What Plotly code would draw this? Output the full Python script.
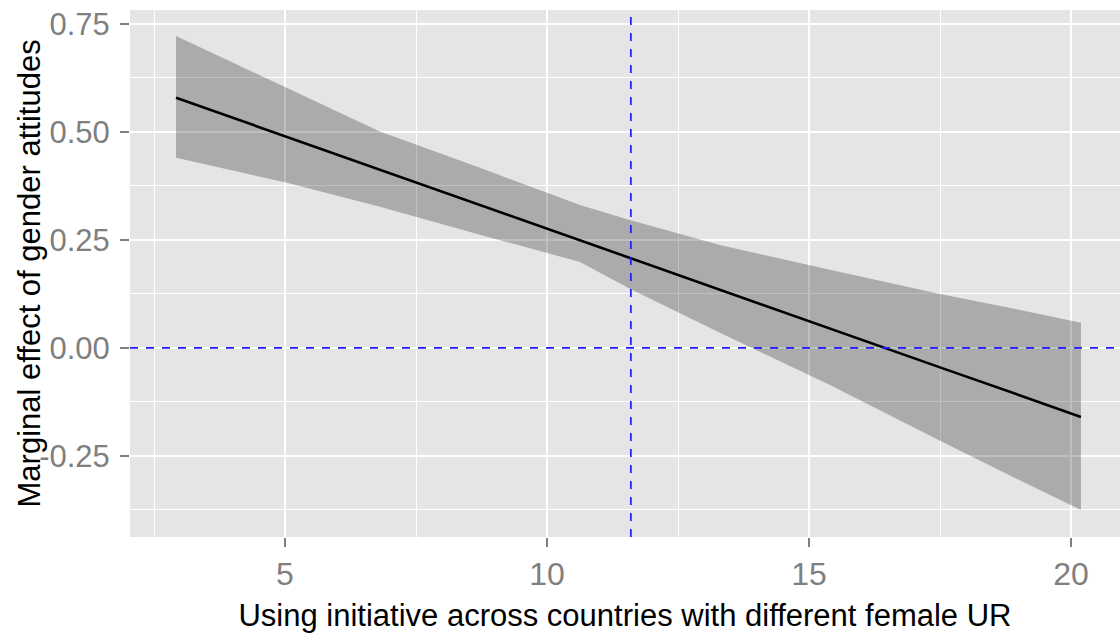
import plotly.graph_objects as go

# ---- data ----
x_vals = [2.92, 5.04, 6.81, 8.72, 10.63, 11.58, 13.30, 15.4, 17.5, 19.03, 20.19]
estimate = [0.579, 0.488, 0.412, 0.331, 0.249, 0.208, 0.135, 0.045, -0.045, -0.110, -0.160]
upper = [0.722, 0.602, 0.501, 0.417, 0.331, 0.296, 0.238, 0.181, 0.125, 0.088, 0.058]
lower = [0.440, 0.382, 0.327, 0.262, 0.199, 0.137, 0.035, -0.086, -0.215, -0.307, -0.375]

vline_x = 11.6
hline_y = 0.0

x_ticks = [5, 10, 15, 20]
y_ticks = [-0.25, 0.0, 0.25, 0.5, 0.75]
y_tick_labels = ["-0.25", "0.00", "0.25", "0.50", "0.75"]

x_title = "Using initiative across countries with different female UR"
y_title = "Marginal effect of gender attitudes"

FONT = "Liberation Sans, Arial, sans-serif"

fig = go.Figure()

# ribbon
fig.add_trace(go.Scatter(
    x=x_vals + x_vals[::-1],
    y=upper + lower[::-1],
    fill="toself",
    fillcolor="rgba(0,0,0,0.25)",
    line=dict(width=0),
    mode="lines",
    hoverinfo="skip",
    showlegend=False,
))

# estimate line
fig.add_trace(go.Scatter(
    x=x_vals, y=estimate,
    mode="lines",
    line=dict(color="black", width=2.6),
    showlegend=False,
))

fig.add_vline(x=vline_x, line=dict(color="#1A1AFF", width=1.7, dash="8px,8px"), layer="above")
fig.add_hline(y=hline_y, line=dict(color="#1A1AFF", width=1.7, dash="8px,8px"), layer="above")

# y-axis title as annotation (positioned like the reference)
fig.add_annotation(
    text=y_title, textangle=-90,
    xref="paper", yref="paper", x=0, y=0.5,
    xanchor="center", yanchor="middle", xshift=-101,
    showarrow=False,
    font=dict(size=31, color="black", family=FONT),
)

fig.update_layout(
    width=1120, height=640,
    margin=dict(l=130, r=0, t=10, b=103),
    paper_bgcolor="white",
    plot_bgcolor="#E5E5E5",
    font=dict(family=FONT, color="black"),
    showlegend=False,
)

fig.update_xaxes(
    automargin=False,
    range=[2.042, 20.935],
    tickvals=x_ticks,
    ticktext=[str(v) for v in x_ticks],
    ticks="outside", ticklen=9, tickwidth=1.5, tickcolor="#7F7F7F",
    tickfont=dict(size=32, color="#7F7F7F", family=FONT),
    showgrid=True, gridcolor="white", gridwidth=2,
    minor=dict(tick0=0, dtick=2.5, showgrid=True, gridcolor="white", gridwidth=1, ticks=""),
    zeroline=False, showline=False,
    title=dict(text=x_title, font=dict(size=31, color="black", family=FONT), standoff=12),
)

fig.update_yaxes(
    automargin=False,
    range=[-0.4375, 0.782],
    tickvals=y_ticks,
    ticktext=y_tick_labels,
    ticks="outside", ticklen=9, tickwidth=1.5, tickcolor="#7F7F7F",
    tickfont=dict(size=31, color="#7F7F7F", family=FONT),
    ticklabelstandoff=4,
    showgrid=True, gridcolor="white", gridwidth=2,
    minor=dict(tick0=0, dtick=0.125, showgrid=True, gridcolor="white", gridwidth=1, ticks=""),
    zeroline=False, showline=False,
)

fig.write_html(
    "out.html",
    config={"displayModeBar": False},
    post_script="document.body.style.margin='0';",
)
